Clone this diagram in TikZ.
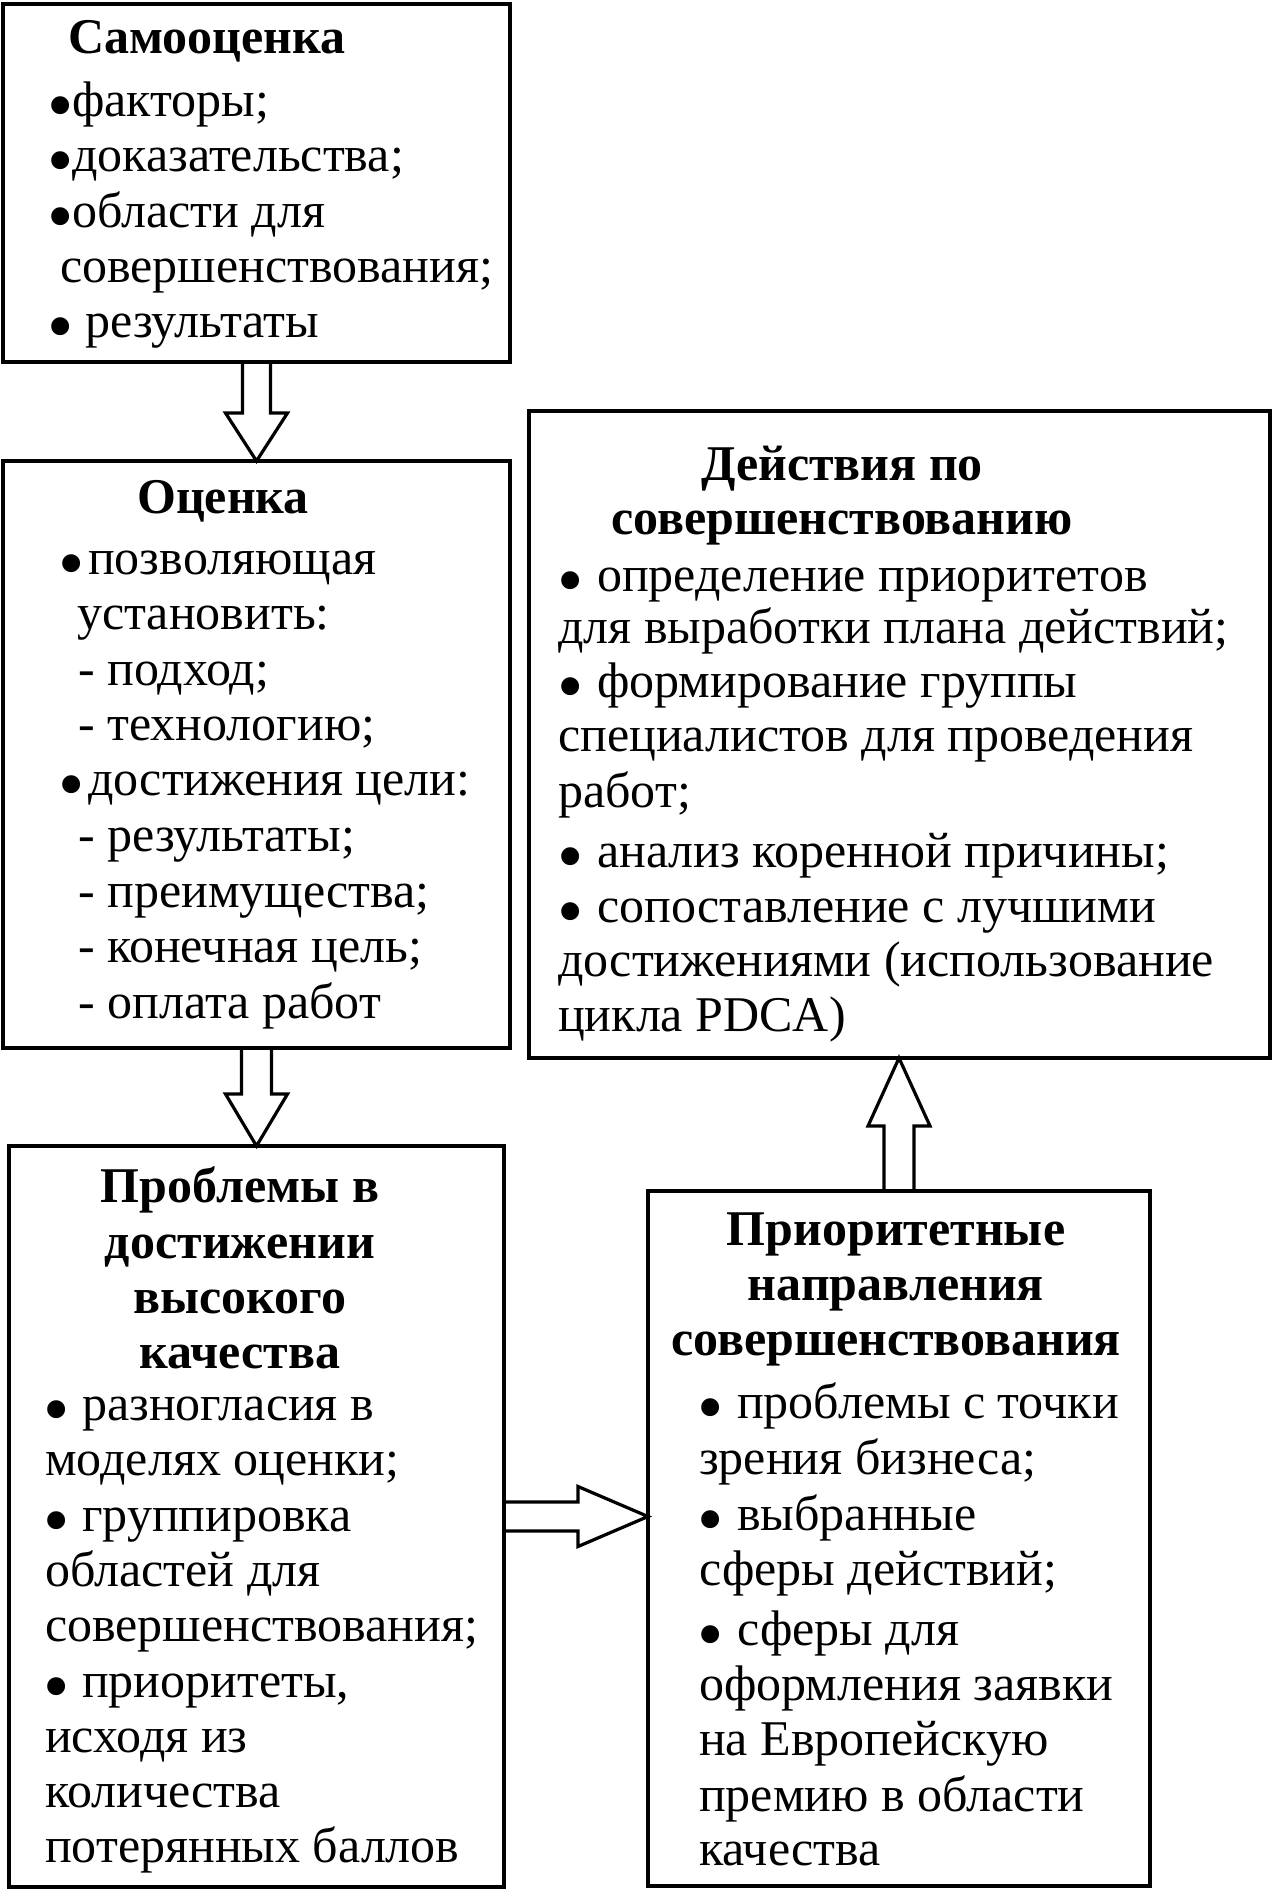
\documentclass[tikz,border=0pt]{standalone}
\usepackage{fontspec}
\setmainfont{Liberation Serif}
\usetikzlibrary{calc}
\newcommand{\bul}[1]{\makebox[#1pt][l]{\raisebox{-14pt}[0pt][0pt]{\fontsize{75}{75}\selectfont •}}}

\begin{document}
\begin{tikzpicture}[x=1pt,y=-1pt,
        box/.style={draw, line width=4pt, outer sep=0pt, inner sep=0pt, anchor=north west},
        txt/.style={anchor=base west, inner sep=0pt, font=\fontsize{50}{55.5}\selectfont},
        head/.style={txt, font=\fontsize{50}{55.5}\selectfont\bfseries},
        blk/.style={draw, line width=3.2pt, line join=miter}]
    \useasboundingbox (0,0) rectangle (1273,1890);
    % boxes
    \node[box, minimum width=507, minimum height=358] (b1) at (3,4) {};
    \node[box, minimum width=507, minimum height=587] (b2) at (3,461) {};
    \node[box, minimum width=495, minimum height=741] (b3) at (9,1146) {};
    \node[box, minimum width=741, minimum height=647] (b4) at (529,411) {};
    \node[box, minimum width=502, minimum height=695] (b5) at (648,1191) {};
    % self assessment
    \node[head] (h1) at (68,53) {Самооценка};
    \foreach \y/\x/\t [count=\i] in {116/47/{\bul{25}факторы;}, 171/47/{\bul{25}доказательства;},
            227/47/{\bul{25}области для}, 282/60/{совершенствования;}, 337/47/{\bul{38}результаты}}
        \node[txt] (s\i) at (\x,\y) {\t};
    % assessment
    \node[head] (h2) at (137,513) {Оценка};
    \foreach \y/\x/\t [count=\i] in {574/58/{\bul{30}позволяющая}, 629/77/{установить:},
            685/78/{- подход;}, 740/78/{- технологию;}, 795/58/{\bul{30}достижения цели:},
            851/78/{- результаты;}, 907/78/{- преимущества;}, 962/78/{- конечная цель;},
            1018/78/{- оплата работ}}
        \node[txt] (o\i) at (\x,\y) {\t};
    % problems
    \foreach \y/\t [count=\i] in {1202/{Проблемы в}, 1258/{достижении}, 1313/{высокого}, 1368/{качества}}
        \node[head, anchor=base] (h3-\i) at (240,\y) {\t};
    \foreach \y/\x/\t [count=\i] in {1420/43/{\bul{39}разногласия в}, 1475/45/{моделях оценки;},
            1531/43/{\bul{39}группировка}, 1586/45/{областей для}, 1641/45/{совершенствования;},
            1697/43/{\bul{39}приоритеты,}, 1752/45/{исходя из}, 1807/45/{количества},
            1862/45/{потерянных баллов}}
        \node[txt] (p\i) at (\x,\y) {\t};
    % actions
    \foreach \y/\t [count=\i] in {480/{Действия по}, 534/{совершенствованию}}
        \node[head, anchor=base] (h4-\i) at (842,\y) {\t};
    \foreach \y/\x/\t [count=\i] in {591/557/{\bul{40}определение приоритетов},
            643/558/{для выработки плана действий;}, 697/557/{\bul{40}формирование группы},
            751/558/{специалистов для проведения}, 807/558/{работ;},
            867/557/{\bul{40}анализ коренной причины;}, 922/557/{\bul{40}сопоставление с лучшими},
            976/558/{достижениями (использование}, 1031/558/{цикла PDCA)}}
        \node[txt] (d\i) at (\x,\y) {\t};
    % priorities
    \foreach \y/\t [count=\i] in {1245/{Приоритетные}, 1300/{направления}, 1355/{совершенствования}}
        \node[head, anchor=base] (h5-\i) at (896,\y) {\t};
    \foreach \y/\x/\t [count=\i] in {1418/697/{\bul{40}проблемы с точки}, 1474/699/{зрения бизнеса;},
            1530/697/{\bul{40}выбранные}, 1585/699/{сферы действий;}, 1645/697/{\bul{40}сферы для},
            1700/699/{оформления заявки}, 1755/699/{на Европейскую}, 1811/699/{премию в области},
            1865/699/{качества}}
        \node[txt] (n\i) at (\x,\y) {\t};
    % block arrows
    \draw[blk] ($(b1.south)+(-14,0)$) -- ($(b2.north)+(-14,-48)$) -- ++(-17,0) -- (b2.north)
        -- ($(b2.north)+(31,-48)$) -- ++(-17,0) -- ($(b1.south)+(14,0)$);
    \draw[blk] ($(b2.south)+(-15,0)$) -- ($(b3.north)+(-15,-52)$) -- ++(-16,0) -- (b3.north)
        -- ($(b3.north)+(31,-52)$) -- ++(-16,0) -- ($(b2.south)+(15,0)$);
    \coordinate (t3) at (b4.south -| b5.north);
    \draw[blk] ($(b5.north)+(-15,0)$) -- ($(t3)+(-15,68)$) -- ++(-16,0) -- (t3)
        -- ($(t3)+(31,68)$) -- ++(-16,0) -- ($(b5.north)+(15,0)$);
    \coordinate (t4) at (b5.west |- b3.east);
    \draw[blk] ($(b3.east)+(0,-14.5)$) -- ($(t4)+(-70,-14.5)$) -- ++(0,-15.5) -- (t4)
        -- ($(t4)+(-70,30)$) -- ++(0,-15.5) -- ($(b3.east)+(0,14.5)$);
\end{tikzpicture}
\end{document}
